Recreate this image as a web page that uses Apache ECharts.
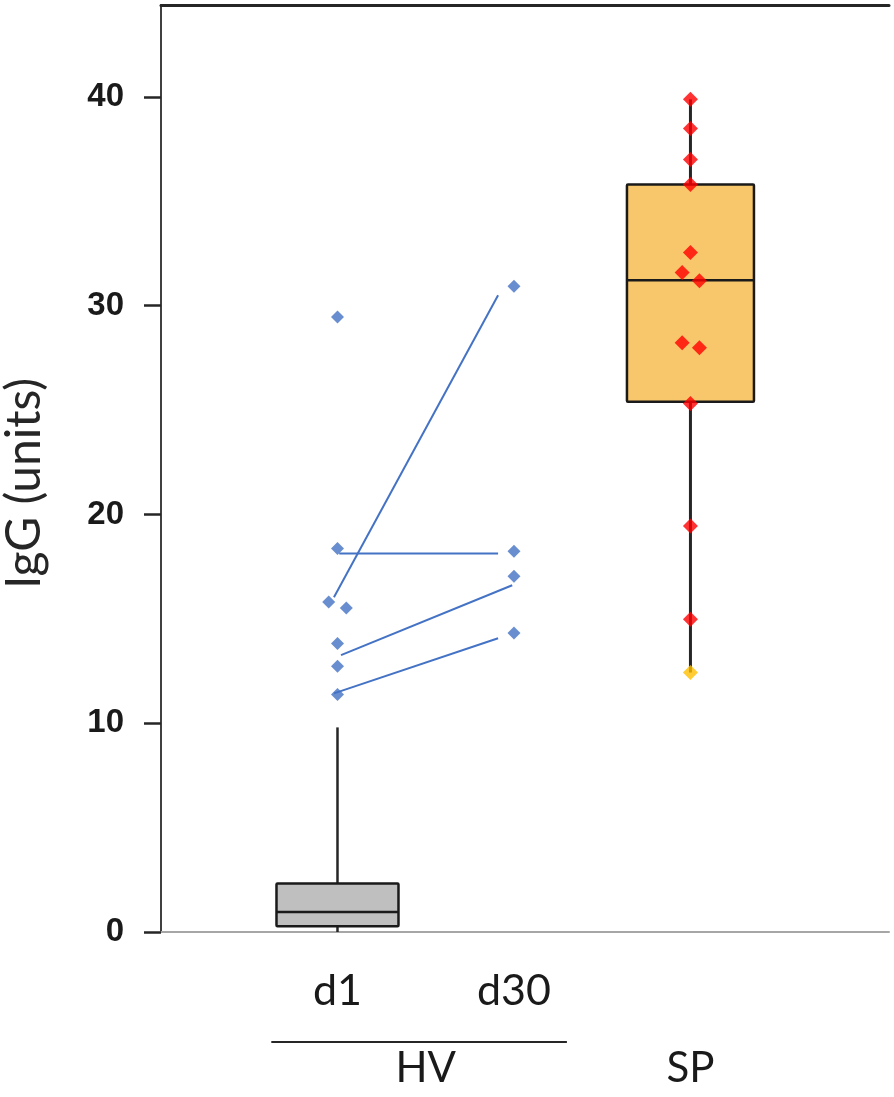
<!DOCTYPE html>
<html>
<head>
<meta charset="utf-8">
<script src="https://cdn.jsdelivr.net/npm/echarts@6/dist/echarts.min.js"></script>
<style>
  html, body { margin: 0; padding: 0; background: #fff; }
  #chart { width: 894px; height: 1097px; }
</style>
</head>
<body>
<div id="chart"></div>
<script>
// categories along x (value positions) and their labels
const groupLabels = ['d1', 'd30'];
const groupPos = [1, 2];
const outerLabels = ['HV', 'SP'];
const outerPos = [1.5, 3];
const hvBracket = [0.625, 2.3];
const yTicks = [0, 10, 20, 30, 40];

// box stats: [x, low whisker, Q1, median, Q3, high whisker]
const hvBox = [1, 0, 0.27, 0.96, 2.32, 9.8];
const spBox = [3, 12.43, 25.4, 31.22, 35.8, 39.88];

// HV individual values (x jitter)
const hvD1 = [[1, 29.46], [1, 18.37], [0.95, 15.81], [1.05, 15.52], [1, 13.82], [1, 12.73], [1, 11.37]];
const hvD30 = [[2, 30.93], [2, 18.24], [2, 17.04], [2, 14.32]];
// paired d1 -> d30 lines
const hvPairs = [
  [[0.98, 16.03], [1.91, 30.5]],
  [[1.01, 18.13], [1.91, 18.13]],
  [[1.02, 13.26], [1.99, 16.61]],
  [[0.98, 11.43], [1.91, 14.07]]
];

// SP individual values
const spPoints = [
  [3, 39.88], [3, 38.49], [3, 37.0], [3, 35.8], [3, 32.55],
  [2.953, 31.59], [3.051, 31.19], [2.953, 28.22], [3.051, 27.98],
  [3, 25.31], [3, 19.45], [3, 14.98]
];
const spLowest = [[3, 12.43]];

const chart = echarts.init(document.getElementById('chart'));

function boxRender(fill, whiskerW, boxW) {
  return function (params, api) {
    const x = api.value(0);
    const lo = api.coord([x, api.value(1)]);
    const q1 = api.coord([x, api.value(2)]);
    const md = api.coord([x, api.value(3)]);
    const q3 = api.coord([x, api.value(4)]);
    const hi = api.coord([x, api.value(5)]);
    const h = boxW / 2;
    const ws = {stroke: '#262626', lineWidth: whiskerW};
    return {
      type: 'group',
      children: [
        {type: 'line', shape: {x1: lo[0], y1: lo[1], x2: q1[0], y2: q1[1]}, style: ws},
        {type: 'line', shape: {x1: q3[0], y1: q3[1], x2: hi[0], y2: hi[1]}, style: ws},
        {type: 'rect', shape: {x: q3[0] - h, y: q3[1], width: boxW, height: q1[1] - q3[1], r: 1},
          style: {fill: fill, stroke: '#1a1a1a', lineWidth: 2.5}},
        {type: 'line', shape: {x1: md[0] - h, y1: md[1], x2: md[0] + h, y2: md[1]},
          style: {stroke: '#1a1a1a', lineWidth: 2.5}}
      ]
    };
  };
}

const xBase = {type: 'value', min: 0, max: 4.125, splitLine: {show: false}, axisTick: {show: false}};

const lineSeries = hvPairs.map(p => ({
  type: 'line',
  data: p,
  symbol: 'none',
  z: 3,
  silent: true,
  lineStyle: {color: '#4472C4', width: 2}
}));

chart.setOption({
  animation: false,
  grid: {left: 161, right: 5, top: 5, bottom: 165, outerBoundsMode: 'none', containLabel: false},
  xAxis: [
    Object.assign({}, xBase, {
      position: 'bottom',
      axisLine: {show: true, lineStyle: {color: '#a6a6a6', width: 2}},
      axisLabel: {
        customValues: groupPos,
        formatter: v => groupLabels[groupPos.indexOf(v)] || '',
        margin: 59, verticalAlign: 'middle',
        fontFamily: 'Lato', fontSize: 43, color: '#1a1a1a'
      }
    }),
    Object.assign({}, xBase, {
      position: 'bottom',
      axisLine: {show: false},
      axisLabel: {
        customValues: outerPos,
        formatter: v => outerLabels[outerPos.indexOf(v)] || '',
        margin: 136, verticalAlign: 'middle',
        fontFamily: 'Lato', fontSize: 42, color: '#1a1a1a'
      }
    }),
    Object.assign({}, xBase, {
      position: 'top',
      axisLine: {show: true, lineStyle: {color: '#262626', width: 3}},
      axisLabel: {show: false}
    })
  ],
  yAxis: [
    {
      type: 'value', min: 0, max: 44.4, interval: 10,
      splitLine: {show: false},
      axisLine: {show: true, lineStyle: {color: '#a0a0a0', width: 2}},
      axisTick: {show: true, customValues: yTicks, length: 17, lineStyle: {color: '#262626', width: 2.5}},
      axisLabel: {
        customValues: yTicks, margin: 37,
        fontFamily: 'Liberation Sans', fontWeight: 'bold', fontSize: 33, color: '#1a1a1a'
      },
      name: 'IgG (units)', nameLocation: 'middle', nameGap: 112,
      nameTextStyle: {fontFamily: 'Lato', fontSize: 48, color: '#262626', padding: [0, 30, 0, 0]}
    },
    {
      type: 'value', min: 0, max: 44.4, position: 'right',
      splitLine: {show: false},
      axisLine: {show: true, lineStyle: {color: '#404040', width: 2}},
      axisTick: {show: false}, axisLabel: {show: false}
    }
  ],
  series: [
    {type: 'custom', data: [hvBox], encode: {x: 0, y: [1, 2, 3, 4, 5]}, z: 1, silent: true,
      renderItem: boxRender('#bfbfbf', 2.5, 122)},
    {type: 'custom', data: [spBox], encode: {x: 0, y: [1, 2, 3, 4, 5]}, z: 1, silent: true,
      renderItem: boxRender('#f8c66b', 3, 127)},
    ...lineSeries,
    {type: 'scatter', data: hvD1, symbol: 'diamond', symbolSize: 13, z: 4, itemStyle: {color: '#4472C4'}},
    {type: 'scatter', data: hvD30, symbol: 'diamond', symbolSize: 13, z: 4, itemStyle: {color: '#4472C4'}},
    {type: 'scatter', data: spPoints, symbol: 'diamond', symbolSize: 15, z: 4, itemStyle: {color: '#ff0000'}},
    {type: 'scatter', data: spLowest, symbol: 'diamond', symbolSize: 15, z: 4, itemStyle: {color: '#ffc000'}}
  ]
});

// bracket line under d1 / d30
const bx0 = chart.convertToPixel({xAxisIndex: 0}, hvBracket[0]);
const bx1 = chart.convertToPixel({xAxisIndex: 0}, hvBracket[1]);
const by = chart.convertToPixel({yAxisIndex: 0}, 0) + 110;
chart.setOption({
  graphic: [{
    type: 'line',
    shape: {x1: bx0, y1: by, x2: bx1, y2: by},
    style: {stroke: '#262626', lineWidth: 2}
  }]
});
</script>
</body>
</html>
